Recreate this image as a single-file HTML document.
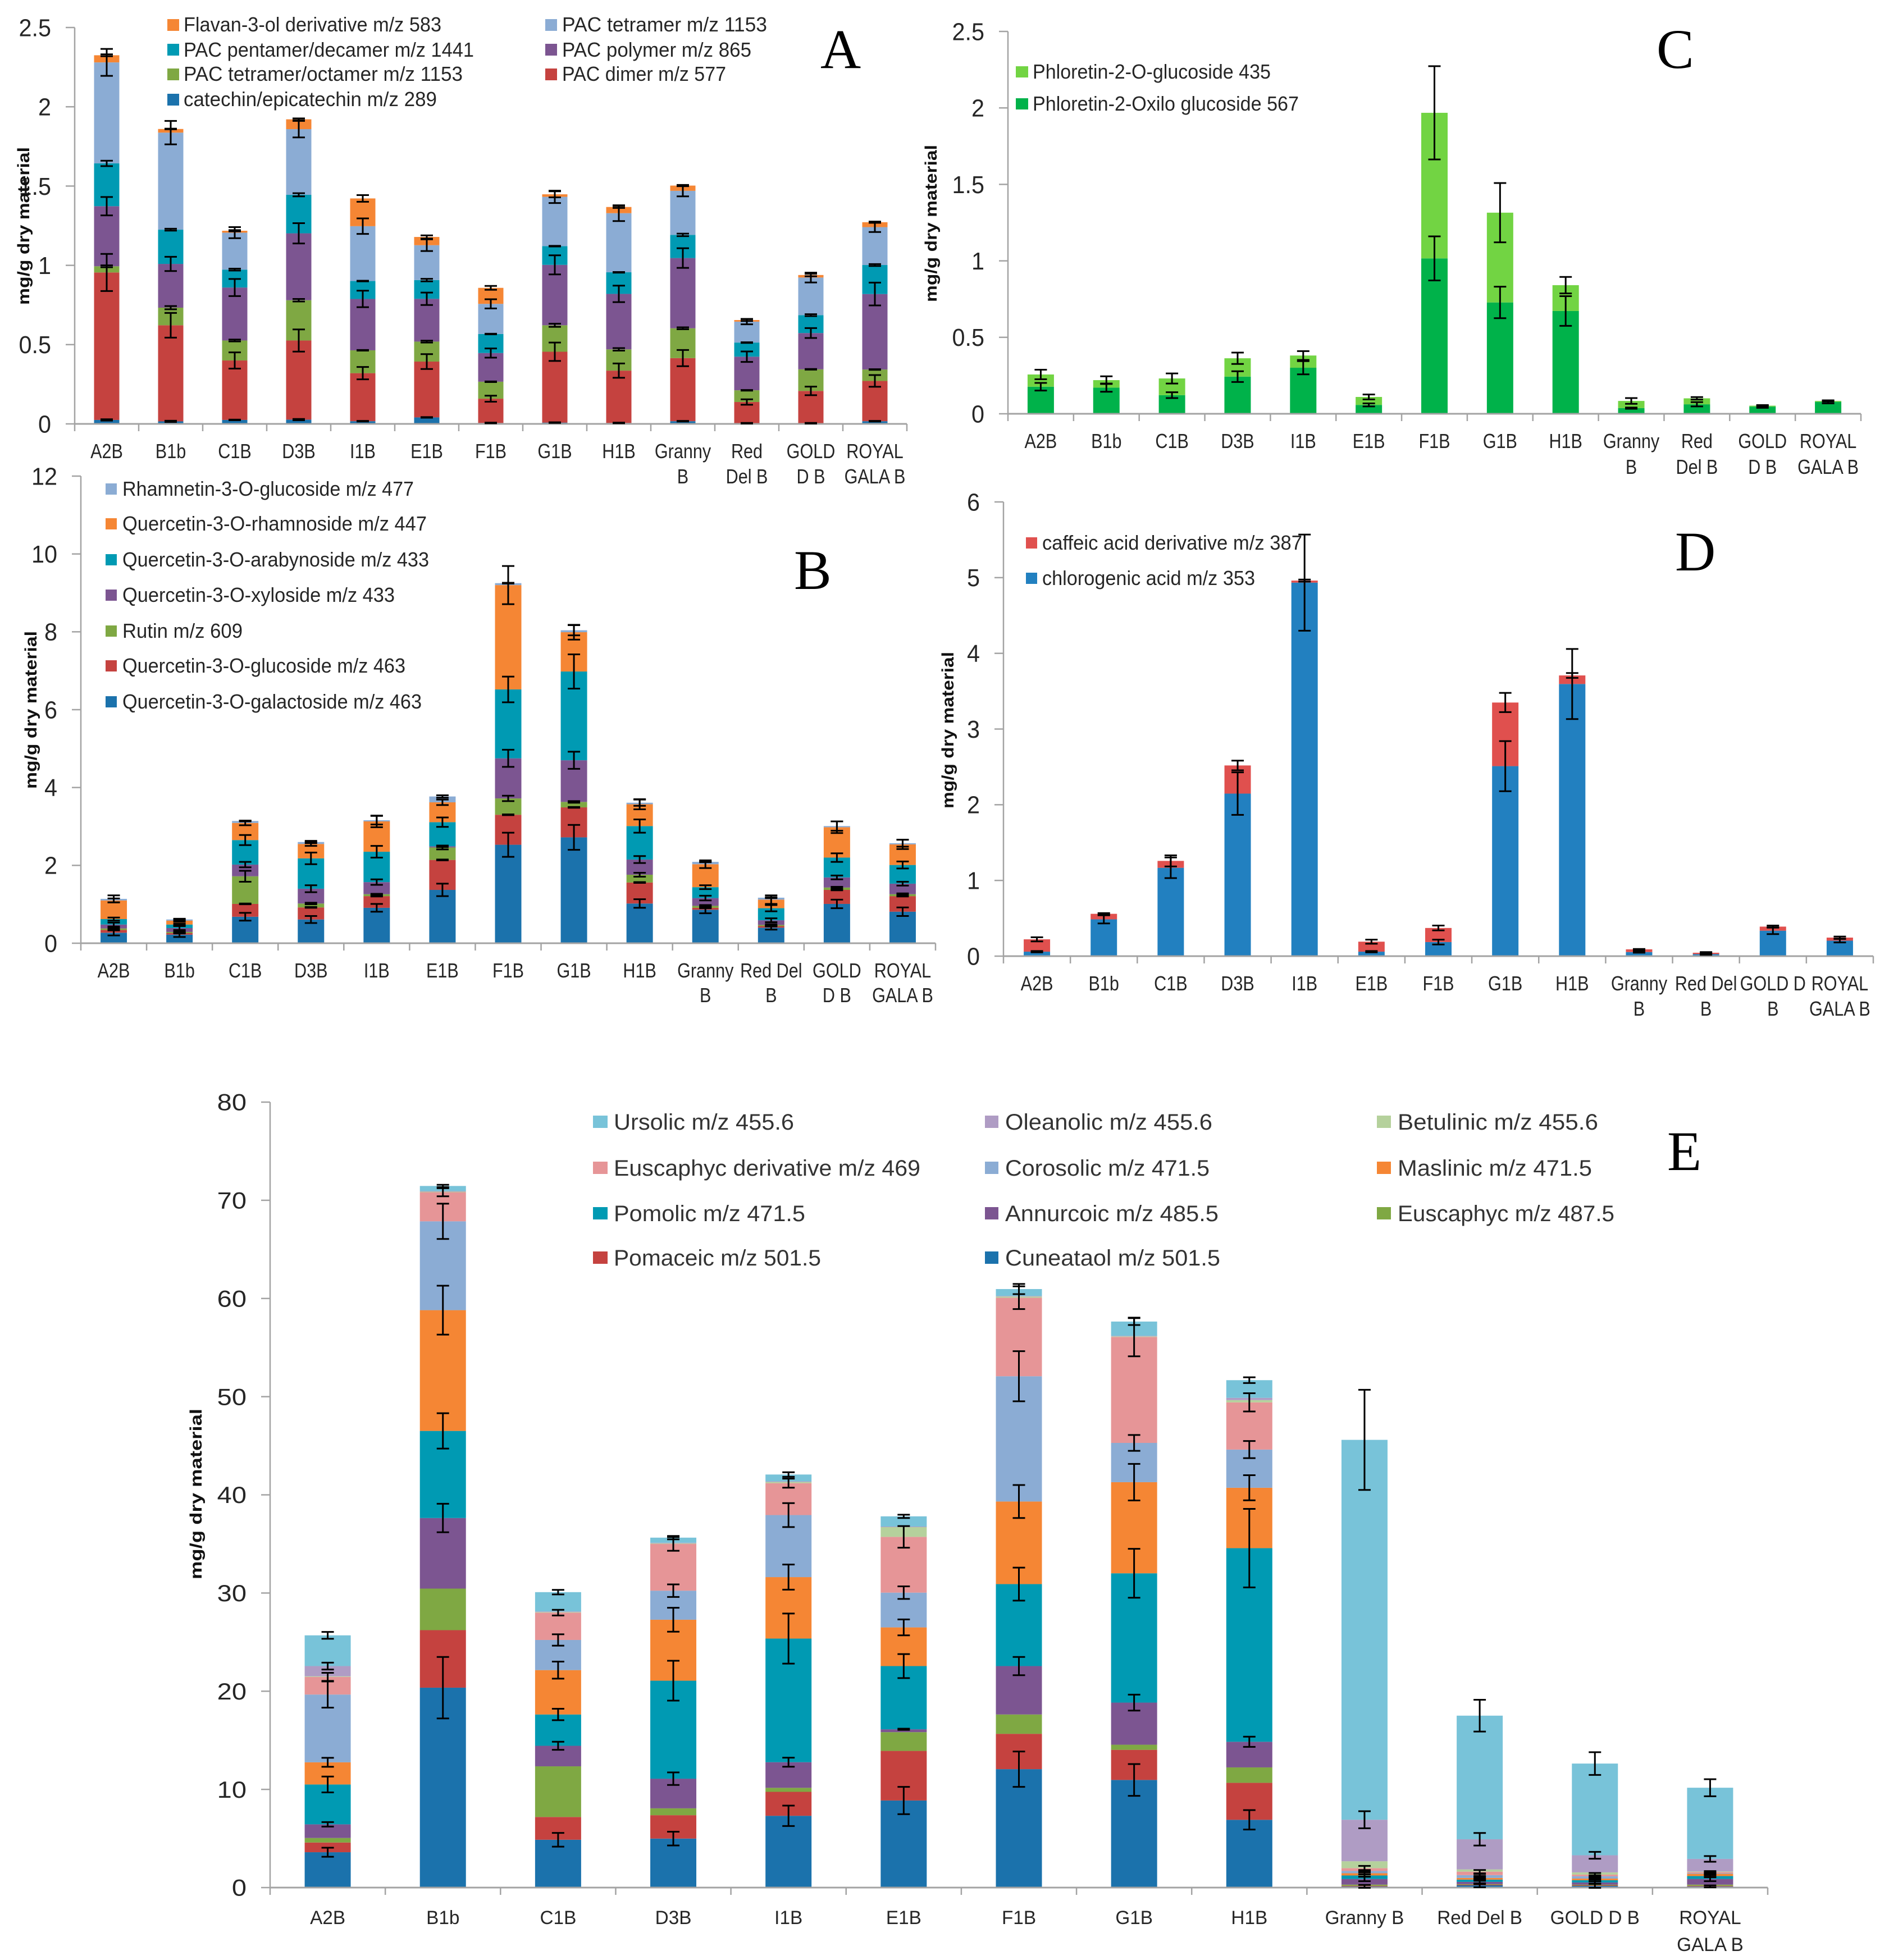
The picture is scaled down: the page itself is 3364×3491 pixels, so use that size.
<!DOCTYPE html>
<html lang="en">
<head>
<meta charset="utf-8">
<title>Apple cultivar phytochemical composition charts</title>
<style>
html,body{margin:0;padding:0;background:#fff;width:3364px;height:3491px;overflow:hidden}
svg{display:block}
text{font-family:"Liberation Sans",sans-serif;fill:#262626}
.leg{font-size:36px}
.lege{font-size:40px;fill:#333}
.ytitle{font-size:30px;font-weight:bold;fill:#111}
.letter{font-family:"Liberation Serif",serif;font-size:100px;fill:#000}
</style>
</head>
<body>
<svg id="figure" xmlns="http://www.w3.org/2000/svg" width="3364" height="3491" viewBox="0 0 3364 3491">
<rect width="3364" height="3491" fill="#fff"/>

<g id="chart-a"></g>
<g id="chart-b"></g>
<g id="chart-c"></g>
<g id="chart-d"></g>
<g id="chart-e"></g>

<g>
<g><rect x="298" y="34" width="21" height="21" fill="#f58634"/><text class="leg" x="327" y="56" textLength="459" lengthAdjust="spacingAndGlyphs">Flavan-3-ol derivative m/z 583</text></g>
<g><rect x="298" y="78" width="21" height="21" fill="#009ab3"/><text class="leg" x="327" y="101" textLength="517" lengthAdjust="spacingAndGlyphs">PAC pentamer/decamer m/z 1441</text></g>
<g><rect x="298" y="122" width="21" height="21" fill="#7fa843"/><text class="leg" x="327" y="144" textLength="497" lengthAdjust="spacingAndGlyphs">PAC tetramer/octamer m/z 1153</text></g>
<g><rect x="298" y="167" width="21" height="21" fill="#1b72ac"/><text class="leg" x="327" y="189" textLength="451" lengthAdjust="spacingAndGlyphs">catechin/epicatechin m/z 289</text></g>
<g><rect x="971" y="34" width="21" height="21" fill="#8bacd4"/><text class="leg" x="1001" y="56" textLength="365" lengthAdjust="spacingAndGlyphs">PAC tetramer  m/z 1153</text></g>
<g><rect x="971" y="78" width="21" height="21" fill="#7c5591"/><text class="leg" x="1001" y="101" textLength="337" lengthAdjust="spacingAndGlyphs">PAC polymer  m/z 865</text></g>
<g><rect x="971" y="122" width="21" height="21" fill="#c5423f"/><text class="leg" x="1001" y="144" textLength="292" lengthAdjust="spacingAndGlyphs">PAC dimer m/z 577</text></g>
</g>

<g>
<g><rect x="188" y="861" width="20" height="20" fill="#8bacd4"/><text class="leg" x="218" y="883" textLength="519" lengthAdjust="spacingAndGlyphs">Rhamnetin-3-O-glucoside m/z 477</text></g>
<g><rect x="188" y="923" width="20" height="20" fill="#f58634"/><text class="leg" x="218" y="945" textLength="542" lengthAdjust="spacingAndGlyphs">Quercetin-3-O-rhamnoside m/z 447</text></g>
<g><rect x="188" y="987" width="20" height="20" fill="#009ab3"/><text class="leg" x="218" y="1009" textLength="546" lengthAdjust="spacingAndGlyphs">Quercetin-3-O-arabynoside m/z 433</text></g>
<g><rect x="188" y="1050" width="20" height="20" fill="#7c5591"/><text class="leg" x="218" y="1072" textLength="485" lengthAdjust="spacingAndGlyphs">Quercetin-3-O-xyloside m/z 433</text></g>
<g><rect x="188" y="1114" width="20" height="20" fill="#7fa843"/><text class="leg" x="218" y="1136" textLength="214" lengthAdjust="spacingAndGlyphs">Rutin m/z 609</text></g>
<g><rect x="188" y="1176" width="20" height="20" fill="#c5423f"/><text class="leg" x="218" y="1198" textLength="504" lengthAdjust="spacingAndGlyphs">Quercetin-3-O-glucoside m/z 463</text></g>
<g><rect x="188" y="1240" width="20" height="20" fill="#1b72ac"/><text class="leg" x="218" y="1262" textLength="533" lengthAdjust="spacingAndGlyphs">Quercetin-3-O-galactoside m/z 463</text></g>
</g>

<g>
<g><rect x="1809" y="118" width="22" height="20" fill="#72d443"/><text class="leg" x="1839" y="140" textLength="424" lengthAdjust="spacingAndGlyphs">Phloretin-2-O-glucoside 435</text></g>
<g><rect x="1809" y="175" width="22" height="20" fill="#00b24a"/><text class="leg" x="1839" y="197" textLength="474" lengthAdjust="spacingAndGlyphs">Phloretin-2-Oxilo glucoside 567</text></g>
</g>

<g>
<g><rect x="1827" y="957" width="20" height="20" fill="#e0504e"/><text class="leg" x="1856" y="979" textLength="463" lengthAdjust="spacingAndGlyphs">caffeic acid derivative m/z 387</text></g>
<g><rect x="1827" y="1020" width="20" height="20" fill="#2280c0"/><text class="leg" x="1856" y="1042" textLength="379" lengthAdjust="spacingAndGlyphs">chlorogenic acid m/z 353</text></g>
</g>

<g>
<g><rect x="1056" y="1987" width="26" height="22" fill="#78c3d9"/><text class="lege" x="1093" y="2012" textLength="321" lengthAdjust="spacingAndGlyphs">Ursolic m/z 455.6</text></g>
<g><rect x="1056" y="2069" width="26" height="22" fill="#e69597"/><text class="lege" x="1093" y="2094" textLength="546" lengthAdjust="spacingAndGlyphs">Euscaphyc derivative m/z 469</text></g>
<g><rect x="1056" y="2150" width="26" height="22" fill="#009ab3"/><text class="lege" x="1093" y="2175" textLength="341" lengthAdjust="spacingAndGlyphs">Pomolic m/z 471.5</text></g>
<g><rect x="1056" y="2229" width="26" height="22" fill="#c5423f"/><text class="lege" x="1093" y="2254" textLength="369" lengthAdjust="spacingAndGlyphs">Pomaceic m/z 501.5</text></g>
<g><rect x="1754" y="1987" width="24" height="22" fill="#af9cc4"/><text class="lege" x="1790" y="2012" textLength="369" lengthAdjust="spacingAndGlyphs">Oleanolic m/z 455.6</text></g>
<g><rect x="1754" y="2069" width="24" height="22" fill="#8bacd4"/><text class="lege" x="1790" y="2094" textLength="364" lengthAdjust="spacingAndGlyphs">Corosolic m/z 471.5</text></g>
<g><rect x="1754" y="2150" width="24" height="22" fill="#7c5591"/><text class="lege" x="1790" y="2175" textLength="380" lengthAdjust="spacingAndGlyphs">Annurcoic m/z 485.5</text></g>
<g><rect x="1754" y="2229" width="24" height="22" fill="#1b72ac"/><text class="lege" x="1790" y="2254" textLength="383" lengthAdjust="spacingAndGlyphs">Cuneataol m/z 501.5</text></g>
<g><rect x="2452" y="1987" width="25" height="22" fill="#b5d19c"/><text class="lege" x="2489" y="2012" textLength="357" lengthAdjust="spacingAndGlyphs">Betulinic m/z 455.6</text></g>
<g><rect x="2452" y="2069" width="25" height="22" fill="#f58634"/><text class="lege" x="2489" y="2094" textLength="346" lengthAdjust="spacingAndGlyphs">Maslinic m/z 471.5</text></g>
<g><rect x="2452" y="2150" width="25" height="22" fill="#7fa843"/><text class="lege" x="2489" y="2175" textLength="386" lengthAdjust="spacingAndGlyphs">Euscaphyc m/z 487.5</text></g>
</g>

<text class="ytitle" transform="translate(52,543) rotate(-90)" textLength="281" lengthAdjust="spacingAndGlyphs">mg/g dry material</text>
<text class="ytitle" transform="translate(65,1405) rotate(-90)" textLength="281" lengthAdjust="spacingAndGlyphs">mg/g dry material</text>
<text class="ytitle" transform="translate(1668,538) rotate(-90)" textLength="280" lengthAdjust="spacingAndGlyphs">mg/g dry material</text>
<text class="ytitle" transform="translate(1698,1440) rotate(-90)" textLength="279" lengthAdjust="spacingAndGlyphs">mg/g dry material</text>
<text class="ytitle" transform="translate(359,2813) rotate(-90)" textLength="304" lengthAdjust="spacingAndGlyphs">mg/g dry material</text>

<text class="letter" x="1461" y="121">A</text>
<text class="letter" x="1414" y="1049">B</text>
<text class="letter" x="2950" y="121">C</text>
<text class="letter" x="2983" y="1016">D</text>
<text class="letter" x="2969" y="2084">E</text>
</svg>

<script>
// ---------- Chart A data ----------
const categoriesA = ["A2B","B1b","C1B","D3B","I1B","E1B","F1B","G1B","H1B","Granny\nB","Red\nDel B","GOLD\nD B","ROYAL\nGALA B"];
const ticksA = [0,0.5,1,1.5,2,2.5];
const catechin = [.025,.016,.025,.027,.017,.041,.006,.008,.006,.017,.004,.004,.017];
const pacDimer = [.930,.606,.375,.499,.303,.352,.153,.447,.330,.398,.134,.204,.254];
const pacOctamer = [.039,.111,.126,.254,.144,.126,.107,.167,.134,.188,.074,.136,.072];
const pacPolymer = [.379,.276,.334,.422,.324,.270,.181,.381,.350,.443,.212,.229,.476];
const pacPentamer = [.270,.216,.113,.243,.113,.118,.120,.118,.136,.146,.089,.113,.183];
const pacTetramer = [.637,.612,.233,.414,.346,.220,.190,.311,.373,.278,.132,.237,.239];
const flavan = [.045,.023,.012,.062,.175,.052,.101,.016,.039,.033,.010,.016,.031];
const catechinErr = [.004,.004,.002,.004,.002,.002,.002,.002,.002,.002,.002,.002,.002];
const pacDimerErr = [.117,.078,.051,.070,.039,.047,.019,.058,.045,.051,.017,.027,.037];
const pacOctamerErr = [.006,.010,.006,.008,.002,.006,.002,.010,.008,.006,.002,.002,.002];
const pacPolymerErr = [.058,.045,.054,.064,.052,.039,.029,.060,.052,.062,.033,.031,.072];
const pacPentamerErr = [.017,.006,.006,.010,.002,.008,.002,.002,.002,.008,.002,.006,.006];
const pacTetramerErr = [.085,.074,.035,.052,.049,.037,.029,.039,.050,.035,.017,.031,.031];
const flavanErr = [.006,.002,.004,.006,.021,.010,.012,.019,.006,.004,.006,.008,.004];

// ---------- Chart B data ----------
const categoriesB = ["A2B","B1b","C1B","D3B","I1B","E1B","F1B","G1B","H1B","Granny\nB","Red Del\nB","GOLD\nD B","ROYAL\nGALA B"];
const ticksB = [0,2,4,6,8,10,12];
const galactoside = [.27,.22,.68,.61,.91,1.37,2.53,2.72,1.02,.86,.40,1.01,.81];
const glucoside = [.07,.04,.33,.31,.30,.77,.77,.77,.54,.05,.04,.36,.40];
const rutin = [.04,.03,.71,.10,.05,.32,.42,.14,.20,.05,.03,.06,.05];
const xyloside = [.10,.10,.30,.38,.31,.03,1.03,1.07,.39,.20,.12,.26,.27];
const arabynoside = [.14,.09,.63,.78,.78,.62,1.77,2.28,.86,.28,.31,.51,.48];
const rhamnoside = [.48,.10,.44,.37,.78,.51,2.68,1.01,.56,.59,.22,.78,.53];
const rhamnetin = [.04,.03,.05,.05,.03,.15,.05,.05,.04,.06,.05,.03,.03];
const galactosideErr = [.07,.06,.10,.09,.10,.16,.31,.32,.11,.09,.05,.11,.11];
const glucosideErr = [.01,.01,.01,.01,.01,.01,.01,.01,.01,.01,.01,.01,.01];
const rutinErr = [.02,.02,.14,.02,.01,.05,.07,.02,.05,.02,.02,.02,.02];
const xylosideErr = [.05,.05,.07,.09,.07,.02,.22,.22,.09,.06,.05,.05,.05];
const arabynosideErr = [.04,.02,.13,.15,.15,.12,.33,.44,.17,.05,.08,.11,.09];
const rhamnosideErr = [.05,.03,.06,.05,.15,.07,.49,.19,.13,.10,.11,.15,.12];
const rhamnetinErr = [.09,.02,.01,.03,.11,.03,.01,.13,.08,.01,.01,.12,.09];

// ---------- Chart C data ----------
const categoriesC = ["A2B","B1b","C1B","D3B","I1B","E1B","F1B","G1B","H1B","Granny\nB","Red\nDel B","GOLD\nD B","ROYAL\nGALA B"];
const ticksC = [0,0.5,1,1.5,2,2.5];
const phloretinOxilo = [.177,.171,.122,.243,.301,.058,1.016,.728,.672,.037,.062,.047,.078];
const phloretinGlucoside = [.080,.049,.109,.120,.080,.052,.952,.587,.169,.047,.039,.006,.006];
const phloretinOxiloErr = [.025,.027,.019,.035,.043,.010,.144,.103,.097,.004,.014,.008,.010];
const phloretinGlucosideErr = [.031,.025,.033,.037,.029,.016,.305,.194,.054,.019,.008,.004,.004];

// ---------- Chart D data ----------
const categoriesD = ["A2B","B1b","C1B","D3B","I1B","E1B","F1B","G1B","H1B","Granny\nB","Red Del\nB","GOLD D\nB","ROYAL\nGALA B"];
const ticksD = [0,1,2,3,4,5,6];
const chlorogenic = [.059,.486,1.167,2.147,4.934,.059,.186,2.510,3.595,.054,.027,.336,.204];
const caffeic = [.163,.073,.091,.372,.027,.132,.186,.840,.113,.036,.018,.054,.041];
const chlorogenicErr = [.009,.054,.136,.281,.635,.009,.032,.331,.463,.009,.009,.045,.023];
const caffeicErr = [.027,.009,.073,.064,.014,.027,.032,.127,.032,.005,.009,.014,.014];

// ---------- Chart E data ----------
const categoriesE = ["A2B","B1b","C1B","D3B","I1B","E1B","F1B","G1B","H1B","Granny B","Red Del B","GOLD D B","ROYAL\nGALA B"];
const ticksE = [0,10,20,30,40,50,60,70,80];
const cuneataol = [3.60,20.36,4.87,4.99,7.31,8.87,12.06,10.96,6.90,.12,.23,.17,.12];
const pomaceic = [.99,5.86,2.32,2.38,2.44,5.05,3.60,3.07,3.77,.06,.06,.06,.06];
const euscaphyc = [.46,4.23,5.16,.70,.41,1.91,1.97,.52,1.57,.12,.06,.06,.12];
const annurcoic = [1.39,7.19,2.09,3.02,2.61,.29,4.93,4.29,2.61,.58,.23,.23,.58];
const pomolic = [4.06,8.87,3.19,9.98,12.59,6.44,8.35,13.17,19.72,.35,.23,.23,.29];
const maslinic = [2.26,12.30,4.52,6.21,6.26,3.94,8.41,9.28,6.15,.23,.17,.17,.23];
const corosolic = [6.90,9.05,3.07,2.96,6.32,3.54,12.76,4.00,3.89,.23,.29,.23,.06];
const euscaphycDerivative = [1.80,2.96,2.78,4.76,3.25,5.68,8.00,10.79,4.81,.29,.35,.17,.12];
const betulinic = [.06,.06,.06,.06,.12,.99,.12,.06,.23,.70,.23,.23,.06];
const oleanolic = [1.04,.06,.06,.06,.06,.06,.06,.06,.23,4.23,3.07,1.74,1.28];
const ursolic = [3.13,.52,1.97,.52,.70,1.04,.70,1.45,1.80,38.69,12.59,9.34,7.25];
const cuneataolErr = [.46,3.13,.70,.70,1.04,1.39,1.80,1.62,.99,.15,.20,.20,.10];
const pomaceicErr = [0,0,0,0,0,0,0,0,0,0,0,0,0];
const euscaphycErr = [0,0,0,0,0,0,0,0,0,0,0,0,0];
const annurcoicErr = [.23,1.45,.41,.64,.46,.06,.93,.81,.52,.23,.23,.12,.23];
const pomolicErr = [.81,1.80,.58,2.03,2.55,1.22,1.68,2.49,4.00,.12,.12,.12,.12];
const maslinicErr = [.46,2.49,.87,1.22,1.28,.81,1.68,1.86,1.28,.10,.10,.10,.10];
const corosolicErr = [1.33,1.80,.58,.64,1.22,.64,2.55,.81,.87,.10,.10,.10,.10];
const euscaphycDerivativeErr = [.41,.41,.29,.70,.46,1.10,1.16,1.97,.93,.23,.17,.17,.10];
const betulinicErr = [0,0,0,0,0,0,0,0,0,0,0,0,0];
const oleanolicErr = [.35,0,0,0,0,0,0,0,0,.87,.64,.35,.29];
const ursolicErr = [.35,.12,.23,.17,.23,.17,.52,.35,.29,5.10,1.62,1.16,.87];

const SVG_NS = "http://www.w3.org/2000/svg";
const AXIS_COLOR = "#a3a3a3";

function addLine(parent, x1, y1, x2, y2, stroke, width) {
  const el = document.createElementNS(SVG_NS, "line");
  el.setAttribute("x1", x1);
  el.setAttribute("y1", y1);
  el.setAttribute("x2", x2);
  el.setAttribute("y2", y2);
  el.setAttribute("stroke", stroke);
  el.setAttribute("stroke-width", width);
  parent.appendChild(el);
  return el;
}

function addText(parent, str, x, y, size, anchor, sx) {
  const el = document.createElementNS(SVG_NS, "text");
  el.textContent = str;
  el.setAttribute("transform", "translate(" + x + "," + y + ") scale(" + sx + ",1)");
  el.setAttribute("font-size", size);
  el.setAttribute("text-anchor", anchor);
  parent.appendChild(el);
  return el;
}

function drawChart(groupId, box, categories, ticks, series) {
  const group = document.getElementById(groupId);
  const n = categories.length;
  const step = (box.x1 - box.x0) / n;
  const maxValue = ticks[ticks.length - 1];
  const xCenter = function (i) { return box.x0 + (i + 0.5) * step; };
  const yScale = function (v) { return box.y0 - (v / maxValue) * (box.y0 - box.yTop); };

  // stacked bars
  const totals = new Array(n).fill(0);
  const tops = [];
  series.forEach(function (s) {
    const topRow = [];
    s.values.forEach(function (v, i) {
      const lower = totals[i];
      totals[i] = lower + v;
      topRow.push(totals[i]);
      const bar = document.createElementNS(SVG_NS, "rect");
      
      
      bar.setAttribute("x", xCenter(i) - box.barW / 2);
      bar.setAttribute("y", yScale(totals[i]));
      bar.setAttribute("width", box.barW);
      bar.setAttribute("height", Math.max(0, yScale(lower) - yScale(totals[i])));
      bar.setAttribute("fill", s.color);
      group.appendChild(bar);
    });
    tops.push(topRow);
  });

  // axes
  const yAxis = addLine(group, box.x0, box.yTop, box.x0, box.y0, AXIS_COLOR, 2.5);
  
  
  const xAxis = addLine(group, box.x0, box.y0, box.x1, box.y0, AXIS_COLOR, 3);
  
  

  ticks.forEach(function (t) {
    const mark = addLine(group, box.x0 - 16, yScale(t), box.x0, yScale(t), AXIS_COLOR, 2.5);
    
    
    const label = addText(group, String(t), box.x0 - 42, yScale(t) + box.tickSize * 0.35, box.tickSize, "end", box.tickSx);
    
    
  });

  for (let i = 0; i <= n; i++) {
    const mark = addLine(group, box.x0 + i * step, box.y0, box.x0 + i * step, box.y0 + 13, AXIS_COLOR, 2.5);
    
    
  }

  categories.forEach(function (c, i) {
    c.split("\n").forEach(function (part, row) {
      const label = addText(group, part, xCenter(i), box.catY + row * box.catGap, box.catSize, "middle", box.catSx);
      
      
    });
  });

  // error bars
  series.forEach(function (s, si) {
    s.errors.forEach(function (e, i) {
      if (!e) return;
      const top = tops[si][i];
      const yHi = yScale(top + e);
      const yLo = yScale(top - e);
      const stem = addLine(group, xCenter(i), yHi, xCenter(i), yLo, "#000", 3);
      
      
      const capHi = addLine(group, xCenter(i) - 11, yHi, xCenter(i) + 11, yHi, "#000", 3);
      
      
      const capLo = addLine(group, xCenter(i) - 11, yLo, xCenter(i) + 11, yLo, "#000", 3);
      
      
    });
  });
}

const BLUE = "#1b72ac", RED = "#c5423f", GREEN = "#7fa843", PURPLE = "#7c5591", TEAL = "#009ab3",
      ORANGE = "#f58634", LIGHTBLUE = "#8bacd4", PINK = "#e69597", PALEGREEN = "#b5d19c",
      LILAC = "#af9cc4", SKY = "#78c3d9";

drawChart("chart-a",
  {x0:133, x1:1615, y0:755, yTop:49, barW:45, tickSize:44, tickSx:.94, catY:816, catGap:45, catSize:36, catSx:.85},
  categoriesA, ticksA, [
    {key:"catechin", color:BLUE, values:catechin, errors:catechinErr},
    {key:"pac-dimer", color:RED, values:pacDimer, errors:pacDimerErr},
    {key:"pac-octamer", color:GREEN, values:pacOctamer, errors:pacOctamerErr},
    {key:"pac-polymer", color:PURPLE, values:pacPolymer, errors:pacPolymerErr},
    {key:"pac-pentamer", color:TEAL, values:pacPentamer, errors:pacPentamerErr},
    {key:"pac-tetramer", color:LIGHTBLUE, values:pacTetramer, errors:pacTetramerErr},
    {key:"flavan", color:ORANGE, values:flavan, errors:flavanErr}
  ]);

drawChart("chart-b",
  {x0:144, x1:1666, y0:1680, yTop:848, barW:47, tickSize:44, tickSx:.94, catY:1741, catGap:44, catSize:36, catSx:.85},
  categoriesB, ticksB, [
    {key:"galactoside", color:BLUE, values:galactoside, errors:galactosideErr},
    {key:"glucoside", color:RED, values:glucoside, errors:glucosideErr},
    {key:"rutin", color:GREEN, values:rutin, errors:rutinErr},
    {key:"xyloside", color:PURPLE, values:xyloside, errors:xylosideErr},
    {key:"arabynoside", color:TEAL, values:arabynoside, errors:arabynosideErr},
    {key:"rhamnoside", color:ORANGE, values:rhamnoside, errors:rhamnosideErr},
    {key:"rhamnetin", color:LIGHTBLUE, values:rhamnetin, errors:rhamnetinErr}
  ]);

drawChart("chart-c",
  {x0:1795, x1:3314, y0:737, yTop:56, barW:47, tickSize:44, tickSx:.94, catY:798, catGap:46, catSize:36, catSx:.85},
  categoriesC, ticksC, [
    {key:"phloretin-oxilo", color:"#00b24a", values:phloretinOxilo, errors:phloretinOxiloErr},
    {key:"phloretin-glucoside", color:"#72d443", values:phloretinGlucoside, errors:phloretinGlucosideErr}
  ]);

drawChart("chart-d",
  {x0:1787, x1:3336, y0:1703, yTop:894, barW:47, tickSize:44, tickSx:.94, catY:1764, catGap:45, catSize:36, catSx:.85},
  categoriesD, ticksD, [
    {key:"chlorogenic", color:"#2280c0", values:chlorogenic, errors:chlorogenicErr},
    {key:"caffeic", color:"#e0504e", values:caffeic, errors:caffeicErr}
  ]);

drawChart("chart-e",
  {x0:481, x1:3148, y0:3362, yTop:1963, barW:82, tickSize:42, tickSx:1.12, catY:3427, catGap:48, catSize:34, catSx:.98},
  categoriesE, ticksE, [
    {key:"cuneataol", color:BLUE, values:cuneataol, errors:cuneataolErr},
    {key:"pomaceic", color:RED, values:pomaceic, errors:pomaceicErr},
    {key:"euscaphyc", color:GREEN, values:euscaphyc, errors:euscaphycErr},
    {key:"annurcoic", color:PURPLE, values:annurcoic, errors:annurcoicErr},
    {key:"pomolic", color:TEAL, values:pomolic, errors:pomolicErr},
    {key:"maslinic", color:ORANGE, values:maslinic, errors:maslinicErr},
    {key:"corosolic", color:LIGHTBLUE, values:corosolic, errors:corosolicErr},
    {key:"euscaphyc-derivative", color:PINK, values:euscaphycDerivative, errors:euscaphycDerivativeErr},
    {key:"betulinic", color:PALEGREEN, values:betulinic, errors:betulinicErr},
    {key:"oleanolic", color:LILAC, values:oleanolic, errors:oleanolicErr},
    {key:"ursolic", color:SKY, values:ursolic, errors:ursolicErr}
  ]);
</script>
</body>
</html>
